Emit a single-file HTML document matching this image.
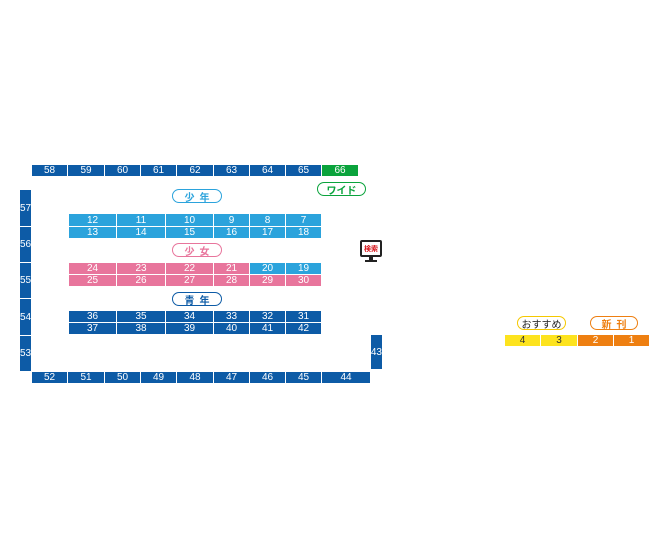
<!DOCTYPE html>
<html><head><meta charset="utf-8"><style>
*{margin:0;padding:0;box-sizing:border-box}
body{width:670px;height:550px;background:#fff;position:relative;overflow:hidden;font-family:"Liberation Sans","Noto Sans CJK JP",sans-serif}
.c{position:absolute;color:#fff;font-size:10px;display:flex;align-items:center;justify-content:center;border-right:1px solid #fff;border-bottom:1px solid #fff}
.d{background:#0d5ba6}.l{background:#2ba3dc}.p{background:#e8759c}.g{background:#0aa33c}.y{background:#fde31e;color:#333}.o{background:#ee7f11}
.pill{position:absolute;height:14px;border:1.5px solid;border-radius:7px;display:flex;align-items:center;justify-content:center;font-size:10px;font-weight:bold;background:#fff}
.pill span{margin-right:5px}.pill span:last-child{margin-right:0}
</style></head><body>
<div class="c d" style="left:32px;top:165px;width:36px;height:12px">58</div>
<div class="c d" style="left:68px;top:165px;width:37px;height:12px">59</div>
<div class="c d" style="left:105px;top:165px;width:36px;height:12px">60</div>
<div class="c d" style="left:141px;top:165px;width:36px;height:12px">61</div>
<div class="c d" style="left:177px;top:165px;width:37px;height:12px">62</div>
<div class="c d" style="left:214px;top:165px;width:36px;height:12px">63</div>
<div class="c d" style="left:250px;top:165px;width:36px;height:12px">64</div>
<div class="c d" style="left:286px;top:165px;width:36px;height:12px">65</div>
<div class="c g" style="left:322px;top:165px;width:37px;height:12px">66</div>
<div class="c d" style="left:20px;top:190px;width:12px;height:37px;justify-content:flex-start">57</div>
<div class="c d" style="left:20px;top:227px;width:12px;height:36px;justify-content:flex-start">56</div>
<div class="c d" style="left:20px;top:263px;width:12px;height:36px;justify-content:flex-start">55</div>
<div class="c d" style="left:20px;top:299px;width:12px;height:37px;justify-content:flex-start">54</div>
<div class="c d" style="left:20px;top:336px;width:12px;height:36px;justify-content:flex-start">53</div>
<div class="c d" style="left:32px;top:372px;width:36px;height:12px">52</div>
<div class="c d" style="left:68px;top:372px;width:37px;height:12px">51</div>
<div class="c d" style="left:105px;top:372px;width:36px;height:12px">50</div>
<div class="c d" style="left:141px;top:372px;width:36px;height:12px">49</div>
<div class="c d" style="left:177px;top:372px;width:37px;height:12px">48</div>
<div class="c d" style="left:214px;top:372px;width:36px;height:12px">47</div>
<div class="c d" style="left:250px;top:372px;width:36px;height:12px">46</div>
<div class="c d" style="left:286px;top:372px;width:36px;height:12px">45</div>
<div class="c d" style="left:322px;top:372px;width:49px;height:12px">44</div>
<div class="c d" style="left:371px;top:335px;width:12px;height:35px;justify-content:flex-end">43</div>
<div class="c l" style="left:69px;top:214px;width:48px;height:13px">12</div>
<div class="c l" style="left:117px;top:214px;width:49px;height:13px">11</div>
<div class="c l" style="left:166px;top:214px;width:48px;height:13px">10</div>
<div class="c l" style="left:214px;top:214px;width:36px;height:13px">9</div>
<div class="c l" style="left:250px;top:214px;width:36px;height:13px">8</div>
<div class="c l" style="left:286px;top:214px;width:36px;height:13px">7</div>
<div class="c l" style="left:69px;top:227px;width:48px;height:12px">13</div>
<div class="c l" style="left:117px;top:227px;width:49px;height:12px">14</div>
<div class="c l" style="left:166px;top:227px;width:48px;height:12px">15</div>
<div class="c l" style="left:214px;top:227px;width:36px;height:12px">16</div>
<div class="c l" style="left:250px;top:227px;width:36px;height:12px">17</div>
<div class="c l" style="left:286px;top:227px;width:36px;height:12px">18</div>
<div class="c p" style="left:69px;top:263px;width:48px;height:12px">24</div>
<div class="c p" style="left:117px;top:263px;width:49px;height:12px">23</div>
<div class="c p" style="left:166px;top:263px;width:48px;height:12px">22</div>
<div class="c p" style="left:214px;top:263px;width:36px;height:12px">21</div>
<div class="c l" style="left:250px;top:263px;width:36px;height:12px">20</div>
<div class="c l" style="left:286px;top:263px;width:36px;height:12px">19</div>
<div class="c p" style="left:69px;top:275px;width:48px;height:12px">25</div>
<div class="c p" style="left:117px;top:275px;width:49px;height:12px">26</div>
<div class="c p" style="left:166px;top:275px;width:48px;height:12px">27</div>
<div class="c p" style="left:214px;top:275px;width:36px;height:12px">28</div>
<div class="c p" style="left:250px;top:275px;width:36px;height:12px">29</div>
<div class="c p" style="left:286px;top:275px;width:36px;height:12px">30</div>
<div class="c d" style="left:69px;top:311px;width:48px;height:12px">36</div>
<div class="c d" style="left:117px;top:311px;width:49px;height:12px">35</div>
<div class="c d" style="left:166px;top:311px;width:48px;height:12px">34</div>
<div class="c d" style="left:214px;top:311px;width:36px;height:12px">33</div>
<div class="c d" style="left:250px;top:311px;width:36px;height:12px">32</div>
<div class="c d" style="left:286px;top:311px;width:36px;height:12px">31</div>
<div class="c d" style="left:69px;top:323px;width:48px;height:12px">37</div>
<div class="c d" style="left:117px;top:323px;width:49px;height:12px">38</div>
<div class="c d" style="left:166px;top:323px;width:48px;height:12px">39</div>
<div class="c d" style="left:214px;top:323px;width:36px;height:12px">40</div>
<div class="c d" style="left:250px;top:323px;width:36px;height:12px">41</div>
<div class="c d" style="left:286px;top:323px;width:36px;height:12px">42</div>
<div class="pill" style="left:172px;top:189px;width:50px;color:#2ba3dc;border-color:#2ba3dc"><span>少</span><span>年</span></div>
<div class="pill" style="left:172px;top:243px;width:50px;color:#e8759c;border-color:#e8759c"><span>少</span><span>女</span></div>
<div class="pill" style="left:172px;top:292px;width:50px;color:#0d5ba6;border-color:#0d5ba6"><span>青</span><span>年</span></div>
<div class="pill" style="left:317px;top:182px;width:49px;color:#0aa33c;border-color:#0aa33c">ワイド</div>
<div class="pill" style="left:517px;top:316px;width:49px;color:#222;border-color:#f5c800;font-weight:normal">おすすめ</div>
<div class="pill" style="left:590px;top:316px;width:48px;color:#ee7f11;border-color:#ee7f11"><span>新</span><span>刊</span></div>
<div style="position:absolute;left:360px;top:240px;width:22px;height:17px;background:#222;border-radius:2px;padding:2px">
<div style="width:100%;height:100%;background:#fff;color:#d7141a;font-size:7px;font-weight:bold;display:flex;align-items:center;justify-content:center">検索</div></div>
<div style="position:absolute;left:369px;top:257px;width:4px;height:3px;background:#222"></div>
<div style="position:absolute;left:365px;top:260px;width:12px;height:2px;background:#222"></div>
<div class="c y" style="left:505px;top:335px;width:36px;height:12px">4</div>
<div class="c y" style="left:541px;top:335px;width:37px;height:12px">3</div>
<div class="c o" style="left:578px;top:335px;width:36px;height:12px">2</div>
<div class="c o" style="left:614px;top:335px;width:36px;height:12px">1</div>
</body></html>
